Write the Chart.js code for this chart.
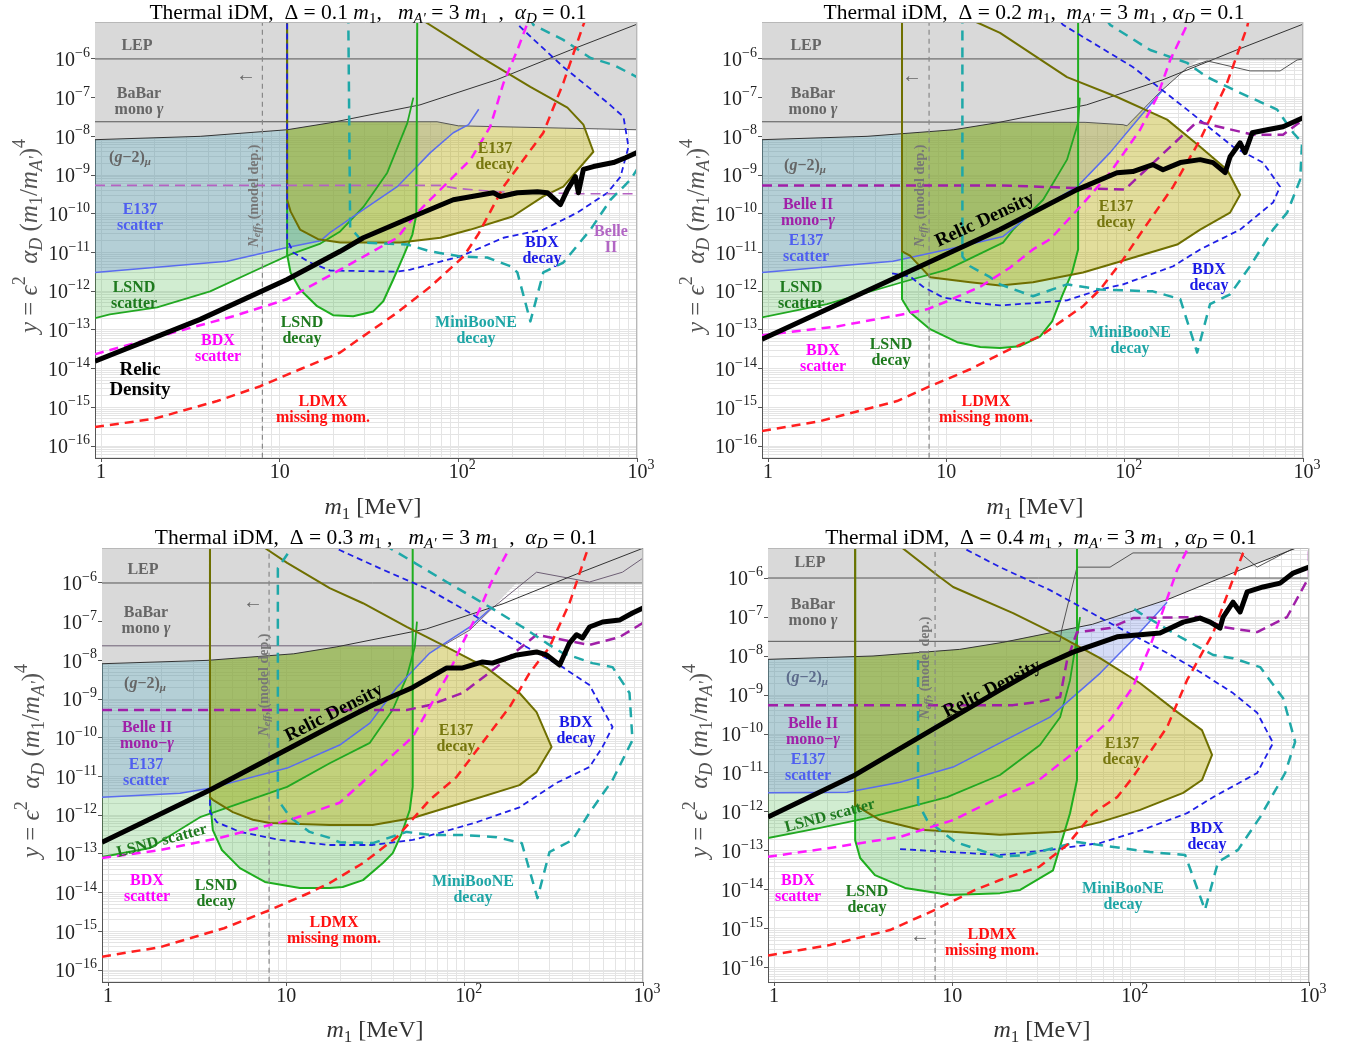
<!DOCTYPE html>
<html>
<head>
    <meta charset="UTF-8" />
    <title>Thermal iDM constraints</title>
    <!-- chart.js library -->
    <script src="https://cdn.jsdelivr.net/npm/chart.js@4.4.9/dist/chart.umd.min.js"></script>
    <style>
        body { margin: 0; background: #fff; }
        #wrap { position: relative; width: 1351px; height: 1051px; }
        canvas { position: absolute; }
    </style>
</head>
<body>
<div id="wrap">
    <canvas id="c1" width="675" height="525" style="left:0px;top:0px"></canvas>
    <canvas id="c2" width="676" height="525" style="left:675px;top:0px"></canvas>
    <canvas id="c3" width="675" height="526" style="left:0px;top:525px"></canvas>
    <canvas id="c4" width="676" height="526" style="left:675px;top:525px"></canvas>
</div>
<script>
    // ---- tick labels ----
    const xTickLabels = [[1, '1', ''], [10, '10', ''], [100, '10', '2'], [1000, '10', '3']];
    const yTickExps = [-6, -7, -8, -9, -10, -11, -12, -13, -14, -15, -16];

    // ---- lines shared by all four panels (x = m1 in MeV, y) ----
    const babarCurve = [[0.925, 8.2e-9], [3.59, 1.0e-8], [11, 1.48e-8], [19.2, 2.24e-8], [61, 6.5e-8], [164, 2.9e-7], [424, 1.7e-6], [1000, 7.9e-6]];
    const lepLine = [[0.925, 1e-6], [1000, 1e-6]];
    const neffLine = [[8, 1e-17], [8, 1e-4]];

    // ---- panel 1 : Delta = 0.1 m1 ----
    const p1GrayFill = [[0.925, 8.2e-9], [3.59, 1.0e-8], [11, 1.48e-8], [19.2, 2.24e-8], [21, 2.38e-8], [76, 2.38e-8], [100, 1.87e-8], [1000, 1.48e-8]];
    const p1GrayEdge = [[0.925, 2.38e-8], [76, 2.38e-8], [100, 1.87e-8], [1000, 1.48e-8]];
    const p1Relic = [[0.925, 1.55e-14], [3.59, 1.87e-13], [11, 2.0e-12], [21.8, 1.07e-11], [29.4, 2.4e-11], [53.8, 7.9e-11], [93.7, 2.3e-10], [157, 3.5e-10], [172, 2.8e-10], [214, 3.5e-10], [277, 3.7e-10], [315, 3.5e-10], [373, 1.73e-10], [408, 4.2e-10], [452, 9.1e-10], [470, 3.5e-10], [501, 1.4e-9], [570, 1.66e-9], [738, 2.1e-9], [862, 2.8e-9], [1000, 3.8e-9]];
    const p1LsndScatter = [[0.925, 2.0e-13], [1.12, 2.5e-13], [2.06, 3.8e-13], [4.08, 9.9e-13], [7.78, 3.9e-12], [11.5, 8.9e-12], [16.9, 1.7e-11], [21.8, 3.5e-11], [29.4, 1.5e-10], [40, 1.15e-9], [51.8, 2.2e-8], [56, 1e-7]];
    const p1E137Scatter = [[0.925, 3.05e-12], [5.08, 5.9e-12], [11, 1.35e-11], [16.9, 2.0e-11], [19.2, 3.3e-11], [29.4, 1.28e-10], [45.5, 5.0e-10], [69.7, 3.8e-9], [93.7, 1.24e-8], [114, 2.0e-8], [130, 5e-8]];
    const p1LsndDecay = [[11, 1.5e-5], [11, 8.9e-12], [11.5, 3.05e-12], [13, 1.1e-12], [16.2, 4.1e-13], [19.9, 2.4e-13], [25.8, 2.25e-13], [33.4, 3.0e-13], [38, 5.5e-13], [43.2, 2.0e-12], [49.2, 7.9e-12], [55.3, 2.9e-11], [58.2, 9.5e-11], [58.9, 1.5e-5]];
    const p1E137Decay = [[11, 1.5e-5], [65.3, 9.0e-6], [133, 1.13e-6], [253, 1.9e-7], [408, 5.5e-8], [501, 2.0e-8], [570, 4.0e-9], [387, 5.0e-10], [299, 2.8e-10], [201, 8.5e-11], [117, 3.9e-11], [79.3, 2.4e-11], [47.3, 1.8e-11], [21.8, 1.8e-11], [16.4, 2.2e-11], [13, 3.9e-11], [11.5, 1.15e-10], [11, 2.3e-10]];
    const p1BdxDecay = [[11, 1.5e-5], [11, 2.2e-11], [11.9, 1.0e-11], [14.8, 5.5e-12], [19.2, 3.4e-12], [45.5, 3.2e-12], [53.8, 3.6e-12], [102.6, 7.9e-12], [179, 2.4e-11], [299, 3.9e-11], [464, 1.07e-10], [684, 3.5e-10], [809, 9.1e-10], [896, 5.4e-9], [840, 3.2e-8], [684, 7.4e-8], [387, 6.2e-7], [222, 6.7e-6], [196, 1.5e-5]];
    const p1MbLower = [[24.2, 1.5e-5], [24.8, 4.4e-11], [29.4, 1.8e-11], [51.8, 1.6e-11], [69.7, 1.07e-11], [102.6, 7.9e-12], [145, 7.4e-12], [196, 4.4e-12], [214, 3.05e-12], [253, 1.66e-13], [299, 3.05e-12], [387, 5.5e-12], [549, 3.9e-11], [711, 2.3e-10], [920, 7.6e-10], [1000, 1.4e-9]];
    const p1MbUpper = [[250, 1.2e-5], [263, 7.6e-6], [387, 3.1e-6], [549, 1.06e-6], [738, 7.0e-7], [1000, 3.4e-7]];
    const p1BdxScatter = [[0.925, 2.35e-14], [2.34, 7.7e-14], [5.49, 2.25e-13], [11, 6.2e-13], [21.8, 3.6e-12], [45.5, 2.4e-11], [58.9, 1.07e-10], [82.4, 5.0e-10], [117, 2.5e-9], [151, 1.8e-8], [179, 2.4e-7], [214, 1.7e-6], [244, 8.5e-6], [250, 1.2e-5]];
    const p1Ldmx = [[0.925, 3.1e-16], [1.96, 5.0e-16], [4.47, 1.45e-15], [7.78, 3.5e-15], [13, 9.6e-15], [21.8, 2.6e-14], [29.4, 6.9e-14], [45.5, 2.8e-13], [69.7, 1.3e-12], [107, 7.9e-12], [129, 2.9e-11], [179, 5e-10], [299, 1.24e-8], [387, 2.4e-7], [501, 7.6e-6], [520, 1.2e-5]];
    const p1Belle = [[0.925, 5.4e-10], [79.3, 5.4e-10], [98.7, 4.5e-10], [165, 3.7e-10], [482, 3.3e-10], [1000, 3.3e-10]];

    // ---- panel 2 : Delta = 0.2 m1 ----
    const p2GrayFill = [[0.925, 8.2e-9], [3.59, 1.0e-8], [11, 1.48e-8], [19.2, 2.24e-8], [21, 2.38e-8], [60, 2.3e-8], [98, 2.0e-8], [103, 1.87e-8], [158, 1.4e-7], [224, 5.9e-7], [262, 1e-6], [1000, 1e-6]];
    const p2GrayEdge = [[0.925, 2.38e-8], [60, 2.3e-8], [98, 2.0e-8], [103, 1.87e-8], [158, 1.4e-7], [224, 5.9e-7], [290, 8.9e-7], [505, 4.9e-7], [744, 4.9e-7], [927, 9.4e-7], [1000, 1.0e-6]];
    const p2Relic = [[0.925, 5.7e-14], [20, 3.9e-11], [54.1, 4.2e-10], [90.6, 1.15e-9], [111, 1.23e-9], [144, 1.86e-9], [164, 1.37e-9], [205, 2.1e-9], [265, 2.5e-9], [313, 2.1e-9], [366, 1.15e-9], [390, 2.97e-9], [444, 6.8e-9], [473, 3.8e-9], [519, 1.24e-8], [629, 1.48e-8], [773, 1.77e-8], [1000, 3.0e-8]];
    const p2LsndScatter = [[0.925, 2.1e-13], [2.14, 4.6e-13], [5.64, 1.7e-12], [10.1, 3.6e-12], [20.8, 1.8e-11], [23.7, 3.9e-11], [34.9, 2.3e-10], [47.5, 2.5e-9], [54.8, 2.2e-8], [56, 1e-7]];
    const p2E137Scatter = [[0.925, 3.05e-12], [5.02, 5.9e-12], [10.1, 1.2e-11], [20.8, 2.6e-11], [30.6, 1.07e-10], [54.1, 5e-10], [82.8, 3.8e-9], [122, 3.2e-8], [164, 1.6e-7]];
    const p2LsndDecay = [[5.64, 1.5e-5], [5.64, 6.2e-13], [6.25, 2.85e-13], [8.1, 1.04e-13], [11.5, 4.8e-14], [15.5, 3.6e-14], [20, 3.4e-14], [25.9, 3.8e-14], [33.6, 6.8e-14], [39.2, 1.66e-13], [44.5, 7.4e-13], [50.7, 3.05e-12], [54.8, 1.2e-11], [54.8, 1.5e-5]];
    const p2E137Decay = [[5.64, 1.5e-5], [14.7, 9e-6], [20, 4.7e-6], [47.5, 3.4e-7], [90.6, 1.04e-7], [173, 2.7e-8], [265, 5.4e-9], [375, 1.37e-9], [444, 3.1e-10], [390, 1.07e-10], [265, 3.9e-11], [197, 1.6e-11], [103, 6.6e-12], [58.4, 3.05e-12], [30.6, 1.7e-12], [20, 1.4e-12], [13.6, 1.7e-12], [8.1, 2.3e-12], [6.25, 8.3e-12], [5.64, 1.07e-11]];
    const p2BdxDecay = [[4.96, 2.9e-12], [6.25, 2.4e-12], [7.4, 1.3e-12], [9.58, 6.9e-13], [13.6, 5.1e-13], [20, 4.3e-13], [30.6, 4.9e-13], [47.5, 5.8e-13], [72.8, 1.1e-12], [98, 1.5e-12], [187, 4.4e-12], [265, 1.2e-11], [444, 3.9e-11], [679, 1.95e-10], [744, 5e-10], [597, 2.1e-9], [405, 5.4e-9], [224, 4.9e-8], [111, 6.2e-7], [45.1, 7.6e-6], [40, 1.5e-5]];
    const p2Mb = [[12.3, 1.5e-5], [12.3, 7.9e-12], [13.6, 4.4e-12], [17.6, 2.3e-12], [20, 1.5e-12], [30.6, 7.4e-13], [47.5, 1.5e-12], [72.8, 1.1e-12], [144, 9.9e-13], [205, 6.2e-13], [255, 2.6e-14], [301, 4.6e-13], [390, 8.3e-13], [505, 4.4e-12], [679, 3.9e-11], [815, 1.07e-10], [964, 7.6e-10], [988, 6.8e-9], [881, 1.24e-8], [716, 4.9e-8], [444, 1.33e-7], [290, 3.4e-7], [224, 7.9e-7], [139, 1.7e-6], [82.8, 7.6e-6], [75, 1.5e-5]];
    const p2BdxScatter = [[0.925, 7.3e-14], [2.44, 1.23e-13], [5.64, 2.5e-13], [7.79, 3.4e-13], [10.1, 5.5e-13], [15.5, 1.3e-12], [22.8, 4.1e-12], [30.6, 1.2e-11], [38.2, 2.2e-11], [56.2, 1.5e-10], [82.8, 1.15e-9], [122, 1.48e-8], [152, 1.04e-7], [180, 9.4e-7], [224, 7.6e-6], [232, 1.2e-5]];
    const p2Ldmx = [[0.925, 2.45e-16], [1.96, 4.4e-16], [5.29, 1.45e-15], [8.1, 3.5e-15], [13.6, 9.6e-15], [22.8, 3.2e-14], [33.6, 6.9e-14], [58.4, 4.1e-13], [72.8, 1.1e-12], [98, 6.6e-12], [127, 3.9e-11], [187, 5e-10], [265, 8.2e-9], [375, 2.4e-7], [486, 6.7e-6], [500, 1.2e-5]];
    const p2Belle = [[0.925, 5.4e-10], [20, 5.4e-10], [100, 4.2e-10], [255, 2.4e-8], [525, 1.1e-8], [773, 1.1e-8], [1000, 2.7e-8]];

    // ---- panel 3 : Delta = 0.3 m1 ----
    const p3GrayFill = [[0.925, 8.2e-9], [3.59, 1.0e-8], [11, 1.48e-8], [19.2, 2.24e-8], [21, 2.38e-8], [75.3, 2.38e-8], [107, 6.1e-8], [143, 2.25e-7], [195, 1e-6], [1000, 1e-6]];
    const p3GrayEdge = [[0.925, 2.38e-8], [75.3, 2.38e-8], [107, 6.1e-8], [143, 2.25e-7], [253, 1.9e-6], [501, 1.06e-6], [767, 1.9e-6], [1000, 4.4e-6]];
    const p3Relic = [[0.925, 2.0e-13], [3.73, 4.5e-12], [17.5, 1.9e-10], [30.5, 7.0e-10], [51.1, 2.0e-9], [79.3, 6.4e-9], [97.4, 6.4e-9], [126, 9.1e-9], [143, 8.5e-9], [196, 1.38e-8], [253, 1.65e-8], [288, 1.38e-8], [341, 7.6e-9], [387, 2.8e-8], [424, 4.6e-8], [458, 3.8e-8], [501, 7.3e-8], [593, 9.8e-8], [738, 1.1e-7], [873, 1.68e-7], [1000, 2.25e-7]];
    const p3LsndScatter = [[0.925, 8.3e-14], [1.72, 1.42e-13], [3.28, 8.9e-13], [10.1, 5.4e-12], [17.5, 2.2e-11], [29.4, 7.4e-11], [39.5, 5.3e-10], [47.3, 3.7e-9], [52.5, 2.2e-8], [54, 1e-7]];
    const p3E137Scatter = [[0.925, 2.9e-12], [2.53, 3.7e-12], [3.73, 5.0e-12], [10.1, 1.65e-11], [19.9, 6.5e-11], [29.4, 2.4e-10], [41.6, 2.0e-9], [63.7, 1.55e-8], [107, 7.3e-8], [143, 2.4e-7]];
    const p3LsndDecay = [[3.73, 1.5e-5], [3.73, 2.5e-12], [3.87, 4.1e-13], [4.35, 1.26e-13], [5.49, 4.3e-14], [7.58, 1.88e-14], [11.9, 1.31e-14], [17.5, 1.31e-14], [20.7, 1.4e-14], [26.9, 2.1e-14], [34.8, 5.8e-14], [39.5, 1.05e-13], [44.4, 3.4e-13], [49.2, 1.36e-12], [51.1, 5.4e-12], [51.1, 1.5e-5]];
    const p3E137Decay = [[3.73, 1.5e-5], [7.58, 8e-6], [10.1, 3.3e-6], [17.5, 7.4e-7], [26.9, 3.0e-7], [47.3, 7.3e-8], [79.3, 2.2e-8], [133, 6.4e-9], [203, 1.44e-9], [253, 4.6e-10], [307, 5.8e-11], [253, 1.3e-11], [203, 6.0e-12], [97.4, 2.1e-12], [51.1, 8.5e-13], [30.5, 5.6e-13], [17.5, 5.6e-13], [8.08, 6.3e-13], [6.49, 7.6e-13], [5.01, 1.2e-12], [3.87, 2.5e-12], [3.73, 2.9e-12]];
    const p3BdxDecay = [[3.73, 2.5e-12], [3.73, 1.2e-12], [4.08, 6.6e-13], [5.49, 3.7e-13], [9.19, 2.3e-13], [17.5, 1.7e-13], [30.5, 1.7e-13], [51.1, 2.3e-13], [72.4, 3.5e-13], [117, 6.6e-13], [203, 1.6e-12], [327, 6.8e-12], [501, 1.76e-11], [593, 5.8e-11], [675, 1.9e-10], [501, 2.3e-9], [354, 6.7e-9], [203, 2.8e-8], [107, 1.68e-7], [63.7, 6.6e-7], [34.8, 2.2e-6], [19.9, 7.1e-6], [16, 1.5e-5]];
    const p3Mb = [[10.5, 1.5e-5], [10.5, 7.1e-6], [8.96, 2.4e-6], [8.96, 2.5e-12], [10.5, 8.9e-13], [13.5, 3.7e-13], [17.5, 2.6e-13], [19.9, 2.0e-13], [30.5, 1.9e-13], [47.3, 3.7e-13], [63.7, 3.1e-13], [97.4, 3.1e-13], [151, 2.7e-13], [209, 1.9e-13], [256, 7.2e-15], [299, 1.12e-13], [403, 2.3e-13], [501, 1.15e-12], [675, 8.1e-12], [873, 8.7e-11], [840, 1.44e-9], [675, 6.7e-9], [521, 8.5e-9], [354, 1.55e-8], [288, 2.8e-8], [211, 7.3e-8], [138, 2.4e-7], [79.3, 1.06e-6], [38, 8e-6], [30, 1.5e-5]];
    const p3BdxScatter = [[0.925, 7.8e-14], [1.96, 1.26e-13], [4.24, 2.6e-13], [10.5, 7.6e-13], [19.9, 2.1e-12], [30.5, 1.23e-11], [51.1, 1.05e-10], [63.7, 6.3e-10], [79.3, 3.7e-9], [97.4, 2.8e-8], [121, 2.0e-7], [143, 1.2e-6], [179, 8e-6], [190, 1.5e-5]];
    const p3Ldmx = [[0.925, 2.2e-16], [1.96, 3.9e-16], [4.47, 1.2e-15], [7.78, 3.3e-15], [13, 9.2e-15], [17.5, 1.77e-14], [26.9, 5.8e-14], [41.6, 2.7e-13], [63.7, 2.5e-12], [90.2, 9.8e-12], [133, 1.05e-10], [179, 6.3e-10], [231, 4.7e-9], [299, 2.2e-8], [387, 3.0e-7], [482, 6.0e-6], [510, 1.5e-5]];
    const p3Belle = [[0.925, 5.2e-10], [47.3, 5.2e-10], [63.7, 7.0e-10], [97.4, 1.44e-9], [151, 6.7e-9], [253, 4.6e-8], [354, 3.4e-8], [501, 2.5e-8], [738, 4.0e-8], [1000, 9.3e-8]];

    // ---- panel 4 : Delta = 0.4 m1 ----
    const p4GrayEdge = [[0.925, 2.38e-8], [40.2, 2.38e-8], [41, 4.6e-8], [50, 1.9e-6], [76.6, 1.9e-6], [103, 4.4e-6], [411, 4.4e-6], [512, 1.9e-6], [783, 5.2e-6], [1000, 8e-6]];
    const p4Relic = [[0.925, 7.4e-13], [2.85, 8.9e-12], [18.5, 1.35e-9], [31, 5.2e-9], [47.5, 1.26e-8], [83.9, 3.1e-8], [113, 3.5e-8], [146, 3.9e-8], [197, 7.4e-8], [245, 9.4e-8], [279, 7.4e-8], [317, 5.2e-8], [330, 1.0e-7], [375, 2.4e-7], [411, 1.35e-7], [450, 4.4e-7], [553, 5.9e-7], [689, 7.4e-7], [815, 1.34e-6], [1000, 1.9e-6]];
    const p4LsndScatter = [[0.925, 2.15e-13], [1.81, 3.9e-13], [3.32, 7.0e-13], [9.34, 2.4e-12], [18.5, 8.9e-12], [31, 5.2e-11], [40.2, 2.7e-10], [45.7, 2.4e-9], [50.7, 4.6e-8], [52, 1e-7]];
    const p4E137Scatter = [[0.925, 3.1e-12], [2.57, 3.2e-12], [5.09, 5.8e-12], [10.1, 1.42e-11], [18.5, 5.9e-11], [35.3, 2.7e-10], [67.3, 3.6e-9], [103, 2.6e-8], [146, 1.5e-7], [160, 2.4e-7]];
    const p4LsndDecay = [[2.85, 1.5e-5], [2.85, 1.9e-13], [3.04, 6.6e-14], [3.68, 2.4e-14], [5.43, 1.13e-14], [9.7, 7.4e-15], [18.5, 8.3e-15], [24, 1.0e-14], [36.7, 3.2e-14], [41.2, 1.9e-13], [45.7, 9.3e-13], [50, 6.6e-12], [50, 1.5e-5]];
    const p4E137Decay = [[2.85, 1.5e-5], [5.22, 6e-6], [8.2, 1.2e-6], [10.1, 5.9e-7], [21.9, 1.26e-7], [40.2, 3.2e-8], [67.3, 8.8e-9], [113, 2.0e-9], [182, 3.7e-10], [251, 1.26e-10], [286, 2.9e-11], [251, 6.6e-12], [197, 3.1e-12], [113, 1.13e-12], [67.3, 5.5e-13], [40.2, 3.1e-13], [18.5, 2.6e-13], [6.59, 3.5e-13], [3.93, 6.2e-13], [2.85, 1.5e-12]];
    const p4BdxDecay = [[5.09, 1.12e-13], [18.5, 7.9e-14], [35.3, 1.07e-13], [67.3, 1.6e-13], [117, 3.5e-13], [207, 9.3e-13], [290, 2.4e-12], [512, 1.0e-11], [629, 5.9e-11], [512, 3.5e-10], [375, 1.12e-9], [245, 3.9e-9], [160, 1.2e-8], [76.6, 7.0e-8], [35.3, 4.9e-7], [18.5, 1.9e-6], [11.5, 5.9e-6], [10, 1.2e-5]];
    const p4Mb = [[6.42, 7.9e-9], [6.42, 1.7e-12], [7.21, 6.2e-13], [10.4, 1.7e-13], [18.5, 7.1e-14], [26.2, 7.9e-14], [50, 1.7e-13], [67.3, 1.42e-13], [128, 9.4e-14], [202, 7.9e-14], [261, 3.1e-15], [309, 5.2e-14], [400, 1.07e-13], [532, 7.4e-13], [735, 1.0e-11], [836, 6.3e-11], [716, 8.3e-10], [532, 5.2e-9], [375, 8.8e-9], [290, 1.06e-8], [189, 3.1e-8], [113, 1.26e-7], [103, 1.7e-7]];
    const p4BdxScatter = [[0.925, 7.1e-14], [2.06, 1.2e-13], [5.09, 2.3e-13], [10.1, 6.2e-13], [18.5, 2.4e-12], [30.6, 6.6e-12], [47.5, 3.2e-11], [76.6, 2.3e-10], [103, 1.62e-9], [128, 1.7e-8], [152, 1.5e-7], [182, 1.6e-6], [207, 5.2e-6], [220, 1e-5]];
    const p4Ldmx = [[0.925, 2.1e-16], [2.06, 3.9e-16], [4.47, 9.4e-16], [8.0, 3.1e-15], [13.4, 1.0e-14], [18.5, 1.8e-14], [30.6, 3.9e-14], [44, 1.42e-13], [61.5, 9.3e-13], [83.9, 2.4e-12], [103, 7.9e-12], [160, 1.5e-10], [207, 2.4e-9], [290, 3.9e-8], [361, 5.9e-7], [427, 4.4e-6], [486, 1e-5]];
    const p4Belle = [[0.925, 5.5e-10], [21.9, 5.5e-10], [30.2, 6.6e-10], [40.2, 8.9e-10], [44, 7.9e-9], [50, 4.1e-8], [76.6, 5.2e-8], [103, 9.4e-8], [245, 1.0e-7], [330, 5.5e-8], [512, 4.1e-8], [753, 1.0e-7], [1000, 1.06e-6], [1000, 1e-5]];

    // ---- text colours ----
    const T_GRAY = '#666666', T_BLUE = '#4f5ff0', T_GREEN = '#1e7a1e', T_MAG = '#ff00ff', T_RED = '#ff1010',
          T_TEAL = '#1fa6a6', T_BDX = '#1a1ae6', T_OLIVE = '#77770f', T_BELLE = '#a020a8';

    const gm2 = [['(', ''], ['g', 'i'], ['\u22122)', ''], ['\u03bc', 'i_']];
    const monoG = [['mono ', ''], ['\u03b3', 'i']];
    const monoG2 = [['mono\u2212', ''], ['\u03b3', 'i']];
    const neffText = [['N', 'i'], ['eff', 'i_'], [', (model dep.)', '']];

    // labels in page pixels
    const p1Labels = [
        {x: 137, y: 46, lines: ['LEP'], color: T_GRAY},
        {x: 139, y: 102, lines: ['BaBar', monoG], color: T_GRAY},
        {x: 246, y: 76, lines: ['\u2190'], color: T_GRAY, size: 20},
        {x: 130, y: 158, lines: [gm2], color: T_GRAY},
        {x: 140, y: 218, lines: ['E137', 'scatter'], color: T_BLUE},
        {x: 134, y: 296, lines: ['LSND', 'scatter'], color: T_GREEN},
        {x: 140, y: 380, lines: ['Relic', 'Density'], color: '#000', size: 19},
        {x: 218, y: 349, lines: ['BDX', 'scatter'], color: T_MAG},
        {x: 302, y: 331, lines: ['LSND', 'decay'], color: T_GREEN},
        {x: 323, y: 410, lines: ['LDMX', 'missing mom.'], color: T_RED},
        {x: 476, y: 331, lines: ['MiniBooNE', 'decay'], color: T_TEAL},
        {x: 542, y: 251, lines: ['BDX', 'decay'], color: T_BDX},
        {x: 611, y: 240, lines: ['Belle', 'II'], color: '#b266c4'},
        {x: 495, y: 157, lines: ['E137', 'decay'], color: T_OLIVE},
        {x: 254, y: 196, lines: [neffText], color: '#777', size: 14, rot: -90}
    ];
    const p2Labels = [
        {x: 806, y: 46, lines: ['LEP'], color: T_GRAY},
        {x: 813, y: 102, lines: ['BaBar', monoG], color: T_GRAY},
        {x: 912, y: 77, lines: ['\u2190'], color: T_GRAY, size: 20},
        {x: 805, y: 166, lines: [gm2], color: T_GRAY},
        {x: 808, y: 213, lines: ['Belle II', monoG2], color: T_BELLE},
        {x: 806, y: 249, lines: ['E137', 'scatter'], color: T_BLUE},
        {x: 801, y: 296, lines: ['LSND', 'scatter'], color: T_GREEN},
        {x: 823, y: 359, lines: ['BDX', 'scatter'], color: T_MAG},
        {x: 891, y: 353, lines: ['LSND', 'decay'], color: T_GREEN},
        {x: 986, y: 410, lines: ['LDMX', 'missing mom.'], color: T_RED},
        {x: 1130, y: 341, lines: ['MiniBooNE', 'decay'], color: T_TEAL},
        {x: 1209, y: 278, lines: ['BDX', 'decay'], color: T_BDX},
        {x: 1116, y: 215, lines: ['E137', 'decay'], color: T_OLIVE},
        {x: 985, y: 220, lines: ['Relic Density'], color: '#000', size: 19, rot: -25},
        {x: 920, y: 196, lines: [neffText], color: '#777', size: 14, rot: -90}
    ];
    const p3Labels = [
        {x: 143, y: 570, lines: ['LEP'], color: T_GRAY},
        {x: 146, y: 621, lines: ['BaBar', monoG], color: T_GRAY},
        {x: 253, y: 603, lines: ['\u2190'], color: T_GRAY, size: 20},
        {x: 145, y: 684, lines: [gm2], color: T_GRAY},
        {x: 147, y: 736, lines: ['Belle II', monoG2], color: T_BELLE},
        {x: 146, y: 773, lines: ['E137', 'scatter'], color: T_BLUE},
        {x: 162, y: 841, lines: ['LSND scatter'], color: T_GREEN, rot: -15},
        {x: 147, y: 889, lines: ['BDX', 'scatter'], color: T_MAG},
        {x: 216, y: 894, lines: ['LSND', 'decay'], color: T_GREEN},
        {x: 334, y: 931, lines: ['LDMX', 'missing mom.'], color: T_RED},
        {x: 473, y: 890, lines: ['MiniBooNE', 'decay'], color: T_TEAL},
        {x: 576, y: 731, lines: ['BDX', 'decay'], color: T_BDX},
        {x: 456, y: 739, lines: ['E137', 'decay'], color: T_OLIVE},
        {x: 334, y: 713, lines: ['Relic Density'], color: '#000', size: 19, rot: -27},
        {x: 264, y: 685, lines: [neffText], color: '#777', size: 14, rot: -90}
    ];
    const p4Labels = [
        {x: 810, y: 563, lines: ['LEP'], color: T_GRAY},
        {x: 813, y: 613, lines: ['BaBar', monoG], color: T_GRAY},
        {x: 807, y: 678, lines: [gm2], color: '#5d6c8c'},
        {x: 813, y: 732, lines: ['Belle II', monoG2], color: T_BELLE},
        {x: 808, y: 768, lines: ['E137', 'scatter'], color: T_BLUE},
        {x: 830, y: 816, lines: ['LSND scatter'], color: T_GREEN, rot: -15},
        {x: 798, y: 889, lines: ['BDX', 'scatter'], color: T_MAG},
        {x: 867, y: 900, lines: ['LSND', 'decay'], color: T_GREEN},
        {x: 920, y: 937, lines: ['\u2190'], color: T_GRAY, size: 20},
        {x: 992, y: 943, lines: ['LDMX', 'missing mom.'], color: T_RED},
        {x: 1123, y: 897, lines: ['MiniBooNE', 'decay'], color: T_TEAL},
        {x: 1207, y: 837, lines: ['BDX', 'decay'], color: T_BDX},
        {x: 1122, y: 752, lines: ['E137', 'decay'], color: T_OLIVE},
        {x: 992, y: 689, lines: ['Relic Density'], color: '#000', size: 19, rot: -27},
        {x: 925, y: 668, lines: [neffText], color: '#777', size: 14, rot: -90}
    ];

    function titleRuns(delta, s1, s2, s3) {
        return [['Thermal iDM,  \u0394 = ' + delta + ' ', ''], ['m', 'i'], ['1', '_'], [s1, ''], ['m', 'i'], ["A'", 'i_'],
                [' = 3 ', ''], ['m', 'i'], ['1', '_'], [s2, ''], ['\u03b1', 'i'], ['D', 'i_'], [s3 + '= 0.1', '']];
    }

    const panels = [
        {canvas: 'c1', offX: 0, offY: 0, area: [95, 22, 637, 458], yExp: [-16.31, -5.046],
         title: titleRuns('0.1', ',   ', '  ,  ', ' '), titleAt: [368, 13], xLab: [373, 508], yLab: [30, 236], labels: p1Labels,
         s: {grayFill: p1GrayFill, grayEdge: p1GrayEdge, relic: p1Relic, lsndScatter: p1LsndScatter, e137Scatter: p1E137Scatter,
             lsndDecay: p1LsndDecay, e137Decay: p1E137Decay, bdxDecay: p1BdxDecay, mb: [p1MbLower, p1MbUpper],
             bdxScatter: p1BdxScatter, ldmx: p1Ldmx, belle: p1Belle, belleColor: '#b563c2', belleWidth: 1.6}},
        {canvas: 'c2', offX: 675, offY: 0, area: [762, 22, 1303, 458], yExp: [-16.31, -5.046],
         title: titleRuns('0.2', ',  ', ' , ', ' '), titleAt: [1034, 13], xLab: [1035, 508], yLab: [697, 236], labels: p2Labels,
         s: {grayFill: p2GrayFill, grayEdge: p2GrayEdge, relic: p2Relic, lsndScatter: p2LsndScatter, e137Scatter: p2E137Scatter,
             lsndDecay: p2LsndDecay, e137Decay: p2E137Decay, bdxDecay: p2BdxDecay, mb: [p2Mb],
             bdxScatter: p2BdxScatter, ldmx: p2Ldmx, belle: p2Belle, belleColor: '#a01fa8', belleWidth: 2.5}},
        {canvas: 'c3', offX: 0, offY: 525, area: [102, 548, 643, 982], yExp: [-16.31, -5.096],
         title: titleRuns('0.3', ' ,   ', '  ,  ', ' '), titleAt: [376, 538], xLab: [375, 1031], yLab: [32, 761], labels: p3Labels,
         s: {grayFill: p3GrayFill, grayEdge: p3GrayEdge, grayEdgeColor: '#6e5f75', relic: p3Relic, lsndScatter: p3LsndScatter, e137Scatter: p3E137Scatter,
             lsndDecay: p3LsndDecay, e137Decay: p3E137Decay, bdxDecay: p3BdxDecay, mb: [p3Mb],
             bdxScatter: p3BdxScatter, ldmx: p3Ldmx, belle: p3Belle, belleColor: '#a01fa8', belleWidth: 2.5}},
        {canvas: 'c4', offX: 675, offY: 525, area: [768, 548, 1309, 982], yExp: [-16.36, -5.23],
         title: titleRuns('0.4', ' ,  ', '  , ', ' '), titleAt: [1041, 538], xLab: [1042, 1031], yLab: [700, 761], labels: p4Labels,
         s: {grayFill: babarCurve, grayEdge: p4GrayEdge, relic: p4Relic, lsndScatter: p4LsndScatter, e137Scatter: p4E137Scatter,
             lsndDecay: p4LsndDecay, e137Decay: p4E137Decay, bdxDecay: p4BdxDecay, mb: [p4Mb],
             bdxScatter: p4BdxScatter, ldmx: p4Ldmx, belle: p4Belle, belleColor: '#a01fa8', belleWidth: 2.5}}
    ];

    const FONT = '"Liberation Serif", "DejaVu Serif", serif';

    // draw a run of text pieces: flags i = italic, _ = subscript, ^ = superscript
    function rich(ctx, runs, x, y, o) {
        const size = o.size || 16;
        const parts = runs.map(([t, f]) => {
            const small = f.includes('_') || f.includes('^');
            const fs = small ? Math.round(size * 0.7) : size;
            const font = (f.includes('i') ? 'italic ' : '') + (o.bold ? 'bold ' : '') + fs + 'px ' + FONT;
            ctx.font = font;
            return {t, font, w: ctx.measureText(t).width, dy: f.includes('_') ? size * 0.28 : (f.includes('^') ? -size * 0.38 : 0)};
        });
        const total = parts.reduce((s, q) => s + q.w, 0);
        ctx.save();
        ctx.translate(x, y);
        if (o.rot) ctx.rotate(o.rot * Math.PI / 180);
        ctx.fillStyle = o.color || '#000';
        ctx.textBaseline = 'middle';
        ctx.textAlign = 'left';
        let cx = o.align === 'right' ? -total : (o.align === 'left' ? 0 : -total / 2);
        parts.forEach(q => { ctx.font = q.font; ctx.fillText(q.t, cx, q.dy); cx += q.w; });
        ctx.restore();
    }

    function makeOverlay(p) {
        return {
            id: 'overlay_' + p.canvas,
            afterDraw(chart) {
                const ctx = chart.ctx, a = chart.chartArea, xs = chart.scales.x, ys = chart.scales.y;
                ctx.save();
                // light frame on top and right
                ctx.strokeStyle = '#b8b8b8';
                ctx.lineWidth = 1;
                ctx.beginPath();
                ctx.moveTo(a.left, a.top + 0.5);
                ctx.lineTo(a.right - 0.5, a.top + 0.5);
                ctx.lineTo(a.right - 0.5, a.bottom);
                ctx.stroke();
                ctx.restore();

                xTickLabels.forEach(([v, base, exp]) => {
                    const runs = exp ? [[base, ''], [exp, '^']] : [[base, '']];
                    rich(ctx, runs, xs.getPixelForValue(v) + (exp ? 4 : 0), a.bottom + 15, {size: 20, color: '#222'});
                });
                yTickExps.forEach(e => {
                    rich(ctx, [['10', ''], ['\u2212' + (-e), '^']], a.left - 5, ys.getPixelForValue(Math.pow(10, e)) + 2,
                         {size: 20, color: '#222', align: 'right'});
                });

                p.labels.forEach(L => {
                    const size = L.size || 16, lh = size * 1.02;
                    L.lines.forEach((ln, i) => {
                        const runs = typeof ln === 'string' ? [[ln, '']] : ln;
                        const dy = (i - (L.lines.length - 1) / 2) * lh;
                        rich(ctx, runs, L.x - p.offX, L.y - p.offY + dy,
                             {size: size, color: L.color, bold: L.bold !== false, rot: L.rot});
                    });
                });

                rich(ctx, p.title, p.titleAt[0] - p.offX, p.titleAt[1] - p.offY, {size: 21.5, color: '#000'});
                rich(ctx, [['m', 'i'], ['1', '_'], [' [MeV]', '']], p.xLab[0] - p.offX, p.xLab[1] - p.offY, {size: 24, color: '#333'});
                rich(ctx, [['y', 'i'], [' = ', ''], ['\u03f5', 'i'], ['2', '^'], ['  ', ''], ['\u03b1', 'i'], ['D', 'i_'], [' (', ''],
                           ['m', 'i'], ['1', '_'], ['/', ''], ['m', 'i'], ["A'", 'i_'], [')', ''], ['4', '^']],
                     p.yLab[0] - p.offX, p.yLab[1] - p.offY, {size: 25, color: '#555', rot: -90});
            }
        };
    }

    function pts(a) {
        return a.map(q => ({x: q[0], y: q[1]}));
    }

    function ds(data, o) {
        return Object.assign({
            data: pts(data), pointRadius: 0, borderWidth: 0, fill: false, tension: 0,
            borderJoinStyle: 'round', borderColor: 'rgba(0,0,0,0)'
        }, o);
    }

    function closed(a) {
        return a.concat([a[0]]);
    }

    function buildDatasets(s) {
        const out = [
            // shaded regions, underneath
            ds(s.lsndScatter, {fill: 'end', backgroundColor: 'rgba(70,185,70,0.25)', order: 30}),
            ds(s.e137Scatter, {fill: 'end', backgroundColor: 'rgba(100,125,225,0.27)', order: 29}),
            ds(s.lsndDecay, {fill: 'shape', backgroundColor: 'rgba(60,180,60,0.28)', order: 28}),
            ds(s.e137Decay, {fill: 'shape', backgroundColor: 'rgba(185,175,20,0.42)', order: 27}),
            ds(s.grayFill, {fill: 'end', backgroundColor: '#d9d9d9', order: 20}),
            // boundaries of the gray region
            ds(lepLine, {borderColor: '#555', borderWidth: 1, order: 8}),
            ds(babarCurve, {borderColor: '#333', borderWidth: 1, order: 8}),
            ds(s.grayEdge, {borderColor: s.grayEdgeColor || '#555', borderWidth: 1, order: 8}),
            // solid outlines
            ds(s.e137Scatter, {borderColor: '#5a6cf0', borderWidth: 1.5, order: 6}),
            ds(s.lsndScatter, {borderColor: '#22a822', borderWidth: 1.8, order: 6}),
            ds(closed(s.e137Decay), {borderColor: '#6f6f00', borderWidth: 2, order: 5}),
            ds(closed(s.lsndDecay), {borderColor: '#1fae1f', borderWidth: 2, order: 5}),
            // dashed projections
            ds(neffLine, {borderColor: '#888', borderWidth: 1.2, borderDash: [5, 4], order: 4}),
            ds(s.belle, {borderColor: s.belleColor, borderWidth: s.belleWidth, borderDash: [10, 6], order: 3}),
            ds(s.bdxDecay, {borderColor: '#1f1fe6', borderWidth: 1.8, borderDash: [6, 4], order: 3}),
            ds(s.ldmx, {borderColor: '#ff1f1f', borderWidth: 2.5, borderDash: [9, 6], order: 2}),
            ds(s.bdxScatter, {borderColor: '#ff1aff', borderWidth: 2.5, borderDash: [9, 6], order: 2}),
            // thermal target on top
            ds(s.relic, {borderColor: '#000', borderWidth: 5, order: 0})
        ];
        s.mb.forEach(m => out.push(ds(m, {borderColor: '#1fa8a8', borderWidth: 2.5, borderDash: [10, 7], order: 2})));
        return out;
    }

    function xGrid() {
        const t = [];
        for (let e = 0; e <= 2; e++) {
            for (let m = 1; m <= 9; m++) t.push({value: m * Math.pow(10, e), major: m === 1});
        }
        t.push({value: 1000, major: true});
        return t;
    }

    function yGrid(min, max) {
        const t = [];
        for (let e = -17; e <= -5; e++) {
            for (let m = 1; m <= 9; m++) {
                const v = m * Math.pow(10, e);
                if (v >= min && v <= max) t.push({value: v, major: m === 1});
            }
        }
        return t;
    }

    const gridOpts = {
        color: '#e4e4e4', lineWidth: 1, drawTicks: true, tickLength: 4,
        tickColor: c => (c.tick && c.tick.major ? '#555' : 'rgba(0,0,0,0)')
    };

    panels.forEach(p => {
        const cv = document.getElementById(p.canvas);
        const W = cv.width, H = cv.height;
        const left = p.area[0] - p.offX, top = p.area[1] - p.offY;
        const right = p.area[2] - p.offX, bottom = p.area[3] - p.offY;
        const yMin = Math.pow(10, p.yExp[0]), yMax = Math.pow(10, p.yExp[1]);
        new Chart(cv, {
            type: 'line',
            data: {datasets: buildDatasets(p.s)},
            options: {
                responsive: false,
                animation: false,
                devicePixelRatio: 1,
                events: [],
                layout: {padding: {left: 0, top: top, right: W - right, bottom: 0}},
                plugins: {legend: {display: false}, tooltip: {enabled: false}},
                scales: {
                    x: {
                        type: 'logarithmic', min: 0.925, max: 1000,
                        ticks: {display: false},
                        grid: gridOpts,
                        border: {display: true, color: '#555', width: 1},
                        afterBuildTicks: sc => { sc.ticks = xGrid(); },
                        afterFit: sc => { sc.height = H - bottom; }
                    },
                    y: {
                        type: 'logarithmic', min: yMin, max: yMax,
                        ticks: {display: false},
                        grid: gridOpts,
                        border: {display: true, color: '#555', width: 1},
                        afterBuildTicks: sc => { sc.ticks = yGrid(yMin, yMax); },
                        afterFit: sc => { sc.width = left; }
                    }
                }
            },
            plugins: [makeOverlay(p)]
        });
    });
</script>
</body>
</html>
